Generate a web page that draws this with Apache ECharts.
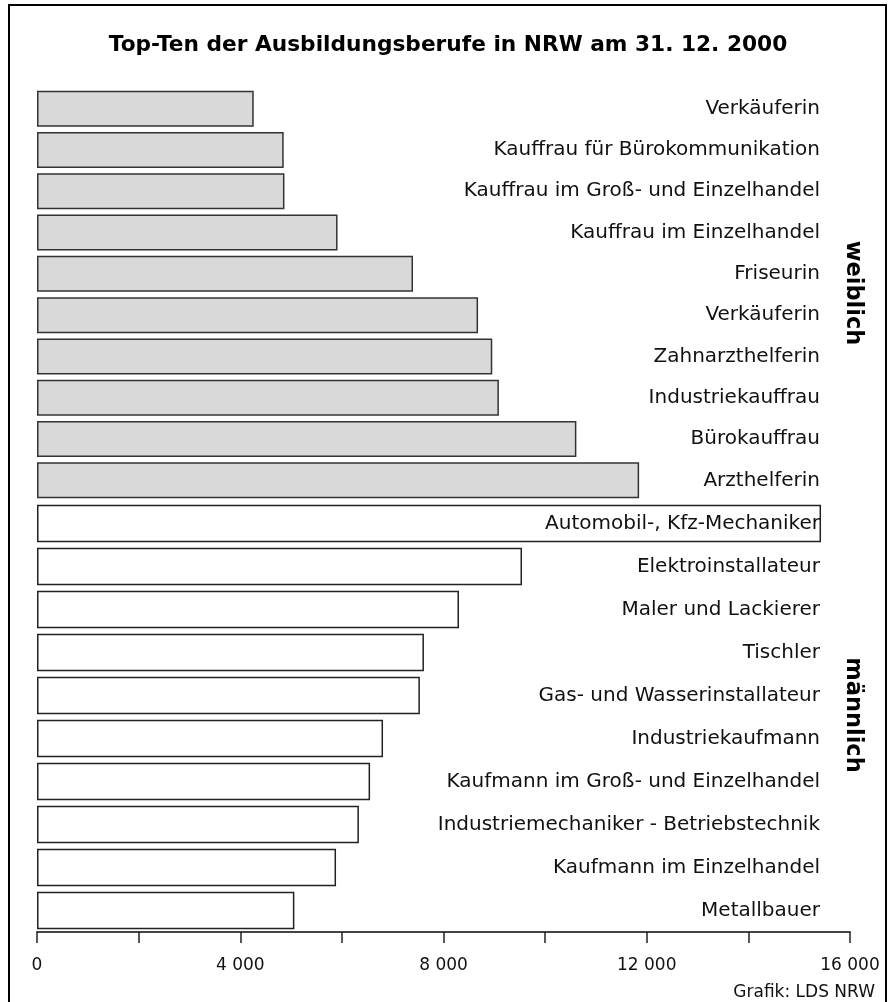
<!DOCTYPE html>
<html>
<head>
<meta charset="utf-8">
<script src="https://cdn.jsdelivr.net/npm/echarts@6/dist/echarts.min.js"></script>
<style>
html,body{margin:0;padding:0;background:#fff;}
#c{width:896px;height:1002px;}
</style>
</head>
<body>
<div id="c"></div>
<script>
// Data
const femaleCategories = ["Verkäuferin","Kauffrau für Bürokommunikation","Kauffrau im Groß- und Einzelhandel","Kauffrau im Einzelhandel","Friseurin","Verkäuferin","Zahnarzthelferin","Industriekauffrau","Bürokauffrau","Arzthelferin"];
const femaleValues = [4265, 4855, 4870, 5915, 7400, 8680, 8960, 9090, 10615, 11850];
const maleCategories = ["Automobil-, Kfz-Mechaniker","Elektroinstallateur","Maler und Lackierer","Tischler","Gas- und Wasserinstallateur","Industriekaufmann","Kaufmann im Groß- und Einzelhandel","Industriemechaniker - Betriebstechnik","Kaufmann im Einzelhandel","Metallbauer"];
const maleValues = [15430, 9545, 8305, 7615, 7535, 6810, 6555, 6335, 5885, 5065];
const tickValues = [0, 4000, 8000, 12000, 16000];
const titleText = "Top-Ten der Ausbildungsberufe in NRW am 31. 12. 2000";
const groupLabels = ["weiblich", "männlich"];
const sourceText = "Grafik: LDS NRW";

const FONT = "DejaVu Sans";
const chart = echarts.init(document.getElementById('c'), null, {renderer: 'canvas'});

function fmt(v){
  if (v === 0) return "0";
  return (v/1000) + " 000";
}

const catAxisCommon = {
  type: 'category',
  inverse: true,
  position: 'right',
  z: 10,
  axisLine: {show: false},
  axisTick: {show: false},
  axisLabel: {inside: true, margin: 30, fontFamily: FONT, fontSize: 20, color: '#111'}
};

chart.setOption({
  animation: false,
  title: {
    text: titleText,
    left: 'center',
    top: 29,
    textStyle: {fontFamily: FONT, fontWeight: 'bold', fontSize: 21.7, color: '#000'}
  },
  grid: [
    {left: 37, right: 46, top: 88, height: 413},
    {left: 37, right: 46, top: 502, height: 430}
  ],
  xAxis: [
    {gridIndex: 0, type: 'value', min: 0, max: 16000, show: false},
    {gridIndex: 1, type: 'value', min: 0, max: 16000, interval: 2000,
     axisLine: {show: true, lineStyle: {color: '#444', width: 2}},
     axisTick: {show: true, length: 11, lineStyle: {color: '#222', width: 1.5}},
     splitLine: {show: false},
     axisLabel: {margin: 25, fontFamily: FONT, fontSize: 17, color: '#111',
       formatter: function(v){ return tickValues.indexOf(v) >= 0 ? fmt(v) : ''; }}
    }
  ],
  yAxis: [
    Object.assign({gridIndex: 0, data: femaleCategories}, catAxisCommon),
    Object.assign({gridIndex: 1, data: maleCategories}, catAxisCommon)
  ],
  series: [
    {type: 'bar', xAxisIndex: 0, yAxisIndex: 0, data: femaleValues, barWidth: 36,
     itemStyle: {color: '#d9d9d9', borderColor: '#333', borderWidth: 1.5}},
    {type: 'bar', xAxisIndex: 1, yAxisIndex: 1, data: maleValues, barWidth: 37.5,
     itemStyle: {color: '#ffffff', borderColor: '#222', borderWidth: 1.5}}
  ],
  graphic: [
    {type: 'rect', shape: {x: 9, y: 5, width: 877, height: 1010}, style: {fill: 'none', stroke: '#000', lineWidth: 2}, z: 100},
    {type: 'text', x: 853, y: 293, rotation: -Math.PI/2,
     style: {text: groupLabels[0], fontFamily: FONT, fontWeight: 'bold', fontSize: 22.5, fill: '#000', textAlign: 'center', textVerticalAlign: 'middle'}},
    {type: 'text', x: 853, y: 715, rotation: -Math.PI/2,
     style: {text: groupLabels[1], fontFamily: FONT, fontWeight: 'bold', fontSize: 22.5, fill: '#000', textAlign: 'center', textVerticalAlign: 'middle'}},
    {type: 'text', right: 21, top: 984,
     style: {text: sourceText, fontFamily: FONT, fontSize: 17, fill: '#111'}}
  ]
});
</script>
</body>
</html>
